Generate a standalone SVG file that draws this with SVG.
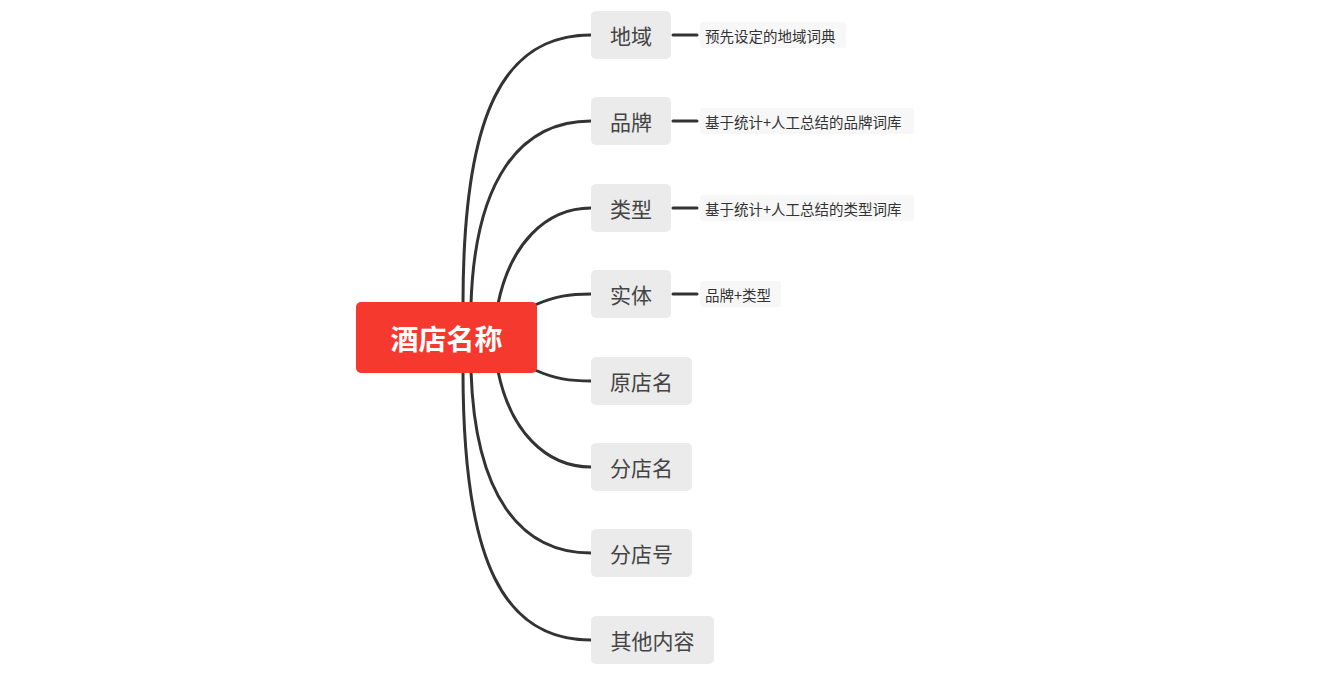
<svg xmlns="http://www.w3.org/2000/svg" width="1331" height="673" viewBox="0 0 1331 673">
<defs>
<style>
.bg{fill:#ffffff}
.conn path,.conn line{fill:none;stroke:#333333;stroke-width:3;stroke-linecap:round}
.child rect{fill:#ebebeb}
.child text{font-family:"Noto Sans CJK SC","Noto Sans",sans-serif;font-size:21px;fill:#444444;text-anchor:middle;dominant-baseline:central}
.leaf rect{fill:#f7f7f7}
.leaf text{font-family:"Noto Sans CJK SC","Noto Sans",sans-serif;font-size:14.5px;fill:#333333;dominant-baseline:central}
.root rect{fill:#f5392f}
.root text{font-family:"Noto Sans CJK SC","Noto Sans",sans-serif;font-size:28px;font-weight:bold;fill:#ffffff;text-anchor:middle;dominant-baseline:central}
</style>
</defs>
<rect class="bg" width="1331" height="673"/>
<g id="connectors" class="conn">
<path d="M463,304 C463,110 505,35 591,35"/>
<path d="M471,304 C475,180 520,121 591,121"/>
<path d="M498,304 C510,245 545,208 591,208"/>
<path d="M535,305 C555,296 570,294 591,294"/>
<path d="M535,370 C555,379 570,381 591,381"/>
<path d="M498,371 C510,430 545,467 591,467"/>
<path d="M471,371 C475,495 520,553 591,553"/>
<path d="M463,371 C463,565 505,640 591,640"/>
<line x1="673" y1="35" x2="697" y2="35"/>
<line x1="673" y1="121" x2="697" y2="121"/>
<line x1="673" y1="208" x2="697" y2="208"/>
<line x1="673" y1="294" x2="697" y2="294"/>
</g>
<g id="root" class="root">
<rect x="356" y="302" width="181" height="71" rx="5"/>
<text x="446.5" y="338">酒店名称</text>
</g>
<g id="n-diyu" class="child"><rect x="591" y="11" width="80" height="48" rx="5"/><text x="631" y="35">地域</text></g>
<g id="n-pinpai" class="child"><rect x="591" y="97" width="80" height="48" rx="5"/><text x="631" y="121">品牌</text></g>
<g id="n-leixing" class="child"><rect x="591" y="184" width="80" height="48" rx="5"/><text x="631" y="208">类型</text></g>
<g id="n-shiti" class="child"><rect x="591" y="270" width="80" height="48" rx="5"/><text x="631" y="294">实体</text></g>
<g id="n-yuandianming" class="child"><rect x="591" y="357" width="101" height="48" rx="5"/><text x="641.5" y="381">原店名</text></g>
<g id="n-fendianming" class="child"><rect x="591" y="443" width="101" height="48" rx="5"/><text x="641.5" y="467">分店名</text></g>
<g id="n-fendianhao" class="child"><rect x="591" y="529" width="101" height="48" rx="5"/><text x="641.5" y="553">分店号</text></g>
<g id="n-qita" class="child"><rect x="591" y="616" width="123" height="48" rx="5"/><text x="652.5" y="640">其他内容</text></g>
<g id="l-diyu" class="leaf"><rect x="700" y="22" width="146" height="26" rx="3"/><text x="705" y="35">预先设定的地域词典</text></g>
<g id="l-pinpai" class="leaf"><rect x="700" y="108" width="214" height="26" rx="3"/><text x="705" y="121">基于统计+人工总结的品牌词库</text></g>
<g id="l-leixing" class="leaf"><rect x="700" y="195" width="214" height="26" rx="3"/><text x="705" y="208">基于统计+人工总结的类型词库</text></g>
<g id="l-shiti" class="leaf"><rect x="700" y="281" width="81" height="26" rx="3"/><text x="705" y="294">品牌+类型</text></g>
</svg>
